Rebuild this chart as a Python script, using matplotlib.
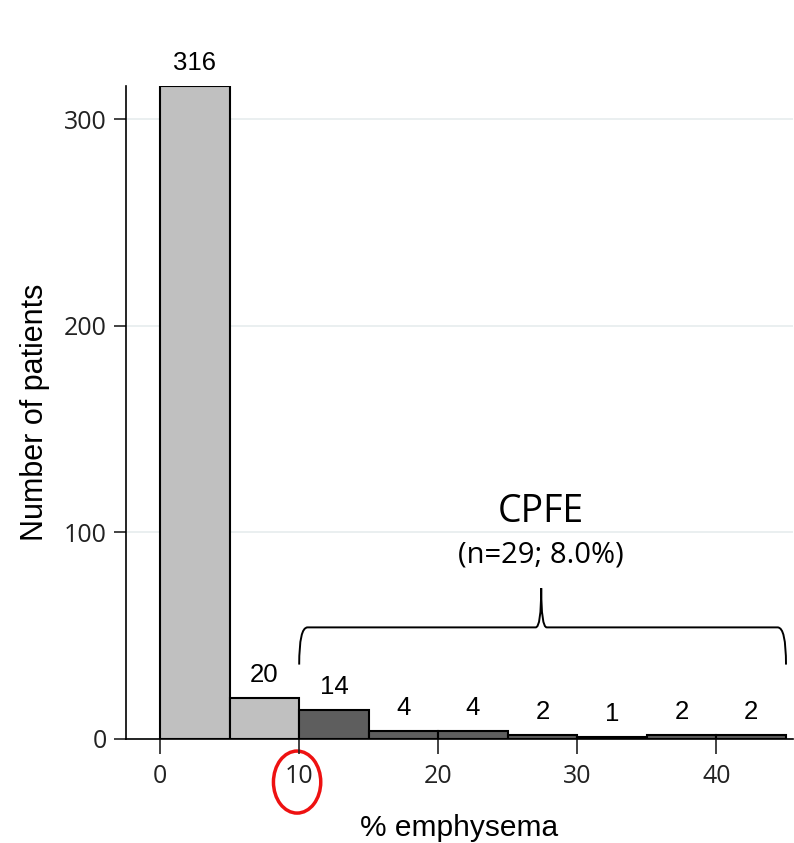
import numpy as np
import matplotlib.pyplot as plt
from matplotlib.patches import Ellipse, PathPatch
from matplotlib.path import Path
import matplotlib.transforms as mtransforms

### Data
bin_edges = [0, 5, 10, 15, 20, 25, 30, 35, 40, 45]
counts = [316, 20, 14, 4, 4, 2, 1, 2, 2]
is_cpfe = [False, False, True, True, True, True, True, True, True]
x_ticks = [0, 10, 20, 30, 40]
y_ticks = [0, 100, 200, 300]
cpfe_title = "CPFE"
cpfe_note = "(n=29; 8.0%)"
###

light_gray = "#c0c0c0"
dark_gray = "#5e5e5e"
tick_font = ['Open Sans', 'DejaVu Sans']

plt.rcParams['font.family'] = ['Liberation Sans', 'DejaVu Sans']

fig = plt.figure(figsize=(7.94, 8.43), dpi=100)
ax = fig.add_axes([0.1587, 0.1234, 0.840, 0.7746])

lefts = np.array(bin_edges[:-1])
widths = np.diff(bin_edges)
colors = [dark_gray if c else light_gray for c in is_cpfe]
ax.bar(lefts, counts, width=widths, align='edge', color=colors,
       edgecolor='black', linewidth=1.5, zorder=3)

# value labels over each bar
for left, w, n in zip(lefts, widths, counts):
    ax.annotate(str(n), (left + w / 2, n), xytext=(0, 8), textcoords='offset points',
                ha='center', va='bottom', fontsize=18.5, annotation_clip=False)

ax.set_xlim(-2.45, 45.5)
ax.set_ylim(0, 316)
ax.set_xticks(x_ticks)
ax.set_yticks(y_ticks)
ax.tick_params(axis='x', length=11, width=1.2, pad=7, labelsize=18, colors='#222222')
ax.tick_params(axis='y', length=9, width=1.2, pad=5, labelsize=18, colors='#222222')
for lbl in ax.get_xticklabels() + ax.get_yticklabels():
    lbl.set_family(tick_font)
ax.grid(axis='y', color='#e6ecee', linewidth=1.2, zorder=0)
for side in ['top', 'right']:
    ax.spines[side].set_visible(False)
ax.spines['left'].set_linewidth(1.2)
ax.spines['bottom'].set_linewidth(1.2)
ax.spines['left'].set_bounds(0, 316)

ax.set_xlabel("% emphysema", fontsize=21.5, labelpad=18)
ax.set_ylabel("Number of patients", fontsize=22, labelpad=10)

# curly brace over the CPFE bins
x0, x1, xm = 10, 45, 27.4
yb, ye, yp = 54, 36, 73
verts = [(x0, ye), (x0, yb), (x0 + 0.6, yb),
         (xm - 0.4, yb), (xm, yb), (xm, yp),
         (xm, yb), (xm + 0.4, yb),
         (x1 - 0.6, yb), (x1, yb), (x1, ye)]
codes = [Path.MOVETO, Path.CURVE3, Path.CURVE3,
         Path.LINETO, Path.CURVE3, Path.CURVE3,
         Path.CURVE3, Path.CURVE3,
         Path.LINETO, Path.CURVE3, Path.CURVE3]
ax.add_patch(PathPatch(Path(verts, codes), facecolor='none', edgecolor='black',
                       linewidth=1.4, clip_on=False, zorder=4))

ax.text(xm, 110, cpfe_title, ha='center', va='center', fontsize=27,
        family=['Open Sans', 'DejaVu Sans'])
ax.text(xm, 89, cpfe_note, ha='center', va='center', fontsize=21,
        family=['Open Sans', 'DejaVu Sans'])

# red ring around the 10 tick label
trans = mtransforms.blended_transform_factory(ax.transData, ax.transAxes)
ax.add_patch(Ellipse((9.85, -0.066), 3.4, 0.095, transform=trans, fill=False,
                     edgecolor='#ee1111', linewidth=2.5, clip_on=False))

plt.savefig("out.png", dpi=100)
